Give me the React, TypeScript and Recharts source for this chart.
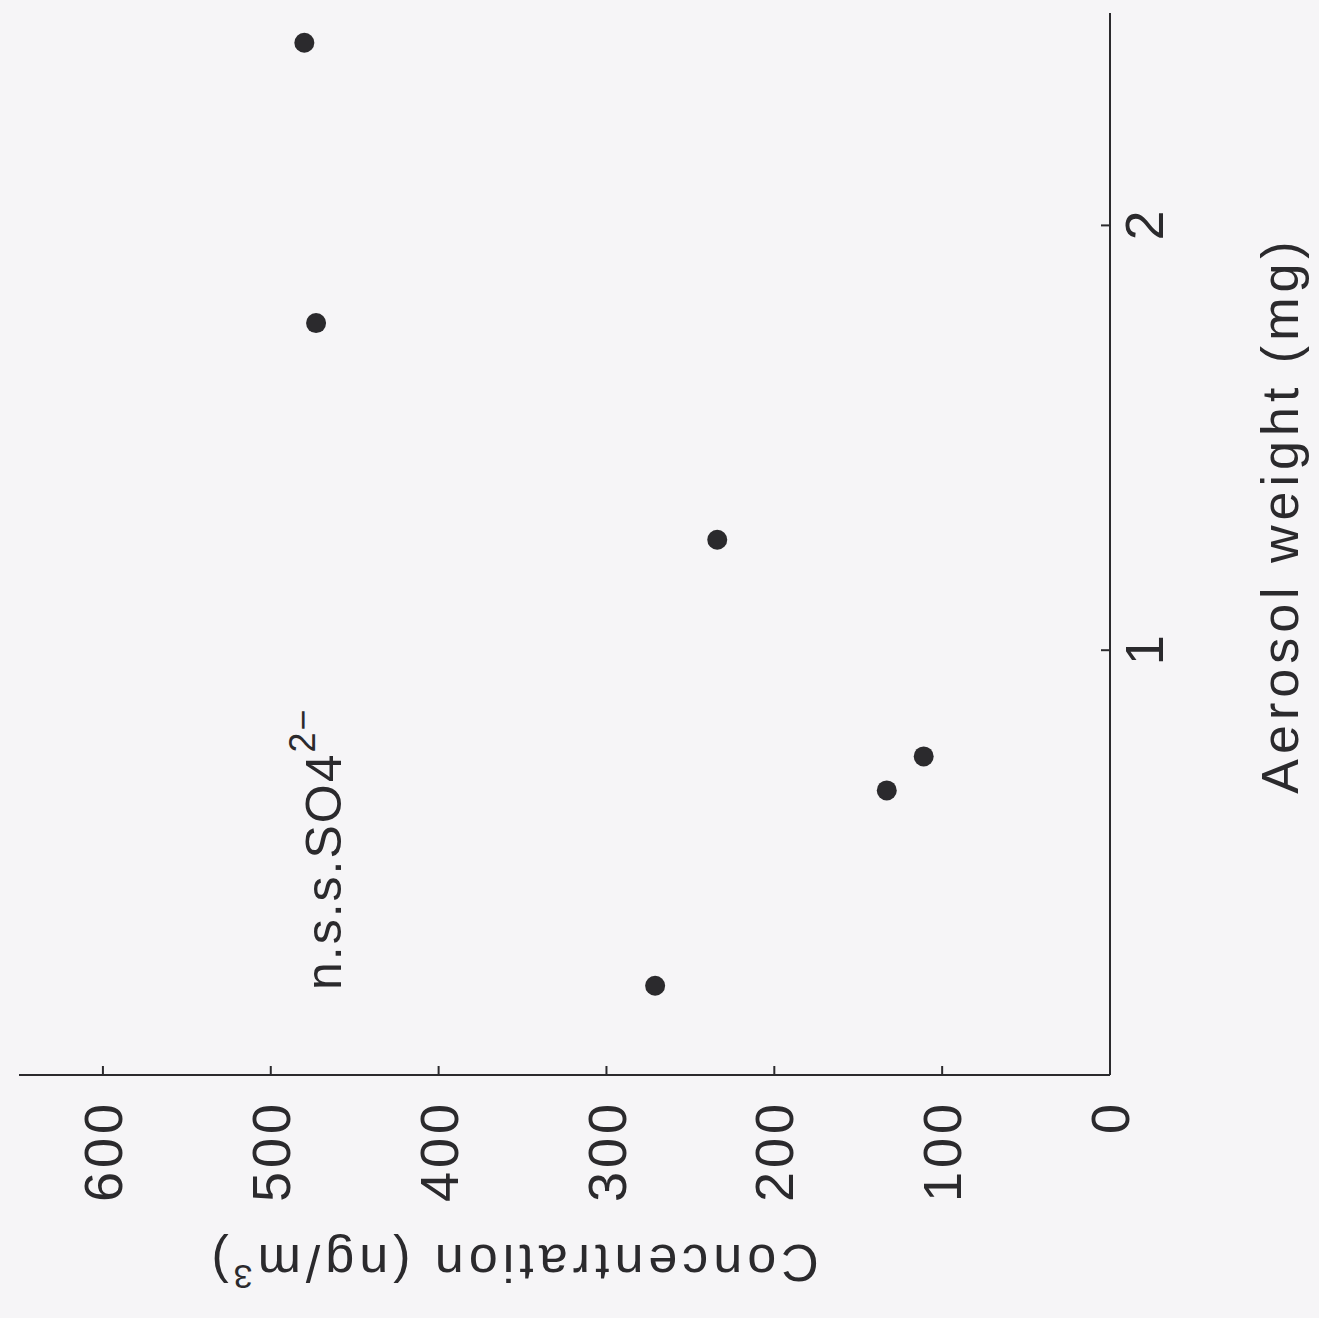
import {
  ScatterChart,
  Scatter,
  XAxis,
  YAxis,
  ReferenceDot,
} from "recharts";

const aerosolWeight = [2.43, 1.77, 1.26, 0.67, 0.75, 0.21];
const concentration = [480, 473, 234, 133, 111, 271];
const weightTicks = [1, 2];
const concTicks = [0, 100, 200, 300, 400, 500, 600];
const speciesName = "n.s.s.SO4";
const speciesCharge = "2\u2212";
const speciesAt = { w: 0.2, c: 458 };

const points = aerosolWeight.map((w, i) => ({ w, c: concentration[i] }));

const FONT = "'Liberation Sans', Arial, Helvetica, sans-serif";
const INK = "#2b2a2d";

function App() {
  return (
    <div
      style={{
        position: "absolute",
        top: 0,
        left: 0,
        width: 1319,
        height: 1318,
        overflow: "hidden",
        background: "#f6f5f7",
      }}
    >
      {/* drawn upright, then turned a quarter to the left like the scan */}
      <div
        style={{
          width: 1318,
          height: 1319,
          transformOrigin: "0 0",
          transform: "translateY(1318px) rotate(-90deg)",
        }}
      >
        <ScatterChart
          width={1318}
          height={1319}
          margin={{ top: 19, right: 13, bottom: 9, left: 43 }}
        >
          <XAxis
            type="number"
            dataKey="w"
            domain={[0, 2.5]}
            ticks={weightTicks}
            height={200}
            stroke={INK}
            strokeWidth={2}
            tickSize={-9}
            tickMargin={24}
            tick={{ fontSize: 54, fill: INK, fontFamily: FONT }}
            label={(props: any) => {
              const vb = props.viewBox;
              return (
                <text
                  x={vb.x + vb.width / 2 + 29}
                  y={vb.y + 188}
                  textAnchor="middle"
                  fontSize={52}
                  letterSpacing={5}
                  fill={INK}
                  fontFamily={FONT}
                >
                  Aerosol weight (mg)
                </text>
              );
            }}
          />
          <YAxis
            type="number"
            dataKey="c"
            domain={[0, 650]}
            ticks={concTicks}
            width={200}
            stroke={INK}
            strokeWidth={2}
            tickSize={-9}
            tickMargin={34}
            tick={{ fontSize: 54, fill: INK, fontFamily: FONT, letterSpacing: 4 }}
            label={(props: any) => {
              const vb = props.viewBox;
              const x = vb.x + 30;
              const y = vb.y + vb.height / 2 - 52;
              return (
                <text
                  x={x}
                  y={y}
                  transform={`rotate(-90, ${x}, ${y})`}
                  textAnchor="middle"
                  fontSize={52}
                  letterSpacing={5}
                  fill={INK}
                  fontFamily={FONT}
                >
                  Concentration (ng/m
                  <tspan dy={-20} fontSize={34}>
                    3
                  </tspan>
                  <tspan dy={20}>)</tspan>
                </text>
              );
            }}
          />
          <ReferenceDot
            x={speciesAt.w}
            y={speciesAt.c}
            r={0}
            fill="none"
            stroke="none"
            label={(props: any) => {
              const vb = props.viewBox;
              return (
                <text
                  x={vb.x}
                  y={vb.y}
                  fontSize={50}
                  letterSpacing={2}
                  fill={INK}
                  fontFamily={FONT}
                >
                  {speciesName}
                  <tspan dy={-26} fontSize={36}>
                    {speciesCharge}
                  </tspan>
                </text>
              );
            }}
          />
          <Scatter
            data={points}
            isAnimationActive={false}
            shape={(p: any) => (
              <circle cx={p.cx} cy={p.cy} r={10} fill={INK} />
            )}
          />
        </ScatterChart>
      </div>
    </div>
  );
}

export default App;
